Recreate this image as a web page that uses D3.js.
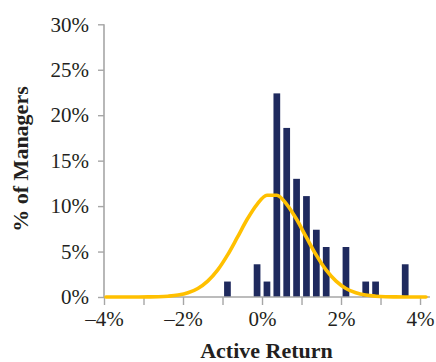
<!DOCTYPE html>
<html>
<head>
<meta charset="utf-8">
<script src="https://cdn.jsdelivr.net/npm/d3@7"></script>
<style>
  html, body { margin: 0; padding: 0; background: #fff; }
  svg { display: block; }
</style>
</head>
<body>
<svg id="chart" width="436" height="362"></svg>
<script>
// Histogram bin centres (% active return) and share of managers (%)
const binCenters = [-0.875, -0.125, 0.125, 0.375, 0.625, 0.875, 1.125, 1.375, 1.625, 2.125, 2.625, 2.875, 3.625];
const binShares  = [1.7, 3.6, 1.7, 22.4, 18.6, 13.0, 11.1, 7.4, 5.5, 5.5, 1.7, 1.7, 3.6];

// Normal-distribution overlay
const curveX = [-3.95, -3.625, -3.375, -3.125, -2.875, -2.625, -2.375, -2.125, -1.875, -1.625, -1.375, -1.125, -0.875, -0.625, -0.375, -0.125, 0.125, 0.375, 0.625, 0.875, 1.125, 1.375, 1.625, 1.875, 2.125, 2.375, 2.625, 2.875, 3.125, 3.375, 3.625, 3.875, 4.15];
const curveY = [0.0, 0.0, 0.0, 0.0, 0.01, 0.03, 0.09, 0.21, 0.46, 0.94, 1.75, 2.95, 4.6, 6.55, 8.55, 10.2, 11.2, 11.2, 10.2, 8.55, 6.55, 4.6, 2.95, 1.75, 0.94, 0.46, 0.21, 0.09, 0.03, 0.01, 0.0, 0.0, 0.0];

const xTicks = [-4, -3, -2, -1, 0, 1, 2, 3, 4];
const xTickLabels = ["\u20134%", "", "\u20132%", "", "0%", "", "2%", "", "4%"];
const yTicks = [0, 5, 10, 15, 20, 25, 30];
const yTickLabels = ["0%", "5%", "10%", "15%", "20%", "25%", "30%"];

const svg = d3.select("#chart");
const font = "'Liberation Serif', 'Times New Roman', serif";
const axisColor = "#a6a6a6";
const textColor = "#231f20";

const x = d3.scaleLinear().domain([-4, 4.25]).range([104, 429.9]);
const y = d3.scaleLinear().domain([0, 30]).range([297, 24.3]);

// Bars
const binStep = 0.25;
const barW = (x(binStep) - x(0)) * 0.68;
svg.append("g").selectAll("rect")
  .data(binCenters.map((c, i) => ({c, v: binShares[i]})))
  .join("rect")
  .attr("x", d => x(d.c) - barW / 2)
  .attr("y", d => y(d.v))
  .attr("width", barW)
  .attr("height", d => y(0) - y(d.v))
  .attr("fill", "#1f2a5e");

// Axes
const xAxis = d3.axisBottom(x)
  .tickValues(xTicks)
  .tickSize(8)
  .tickPadding(6)
  .tickFormat((d, i) => xTickLabels[i]);
const gx = svg.append("g").attr("transform", `translate(0,${y(0)})`).call(xAxis);
gx.select(".domain").attr("d", `M${x(-4)},0H${x(4.25)}`);

const yAxis = d3.axisLeft(y)
  .tickValues(yTicks)
  .tickSize(6)
  .tickPadding(9)
  .tickFormat((d, i) => yTickLabels[i]);
const gy = svg.append("g").attr("transform", `translate(${x(-4)},0)`).call(yAxis);
gy.select(".domain").attr("d", `M0,${y(0)}V${y(30)}`);

[gx, gy].forEach(g => {
  g.select(".domain").attr("stroke", axisColor).attr("stroke-width", 1.6);
  g.selectAll(".tick line").attr("stroke", axisColor).attr("stroke-width", 1.4);
  g.selectAll(".tick text")
    .attr("fill", textColor)
    .style("font-family", font)
    .style("font-size", "21px");
});

// Normal curve
const line = d3.line()
  .x((d, i) => x(curveX[i]))
  .y(d => y(d))
  .curve(d3.curveMonotoneX);
svg.append("path")
  .datum(curveY)
  .attr("d", line)
  .attr("fill", "none")
  .attr("stroke", "#ffc000")
  .attr("stroke-width", 3.6)
  .attr("stroke-linejoin", "round")
  .attr("stroke-linecap", "round");

// Axis titles
svg.append("text")
  .attr("x", 266.5)
  .attr("y", 357.5)
  .attr("text-anchor", "middle")
  .attr("fill", textColor)
  .style("font-family", font)
  .style("font-size", "22px")
  .style("font-weight", "bold")
  .text("Active Return");

svg.append("text")
  .attr("transform", "translate(28,159) rotate(-90)")
  .attr("text-anchor", "middle")
  .attr("fill", textColor)
  .style("font-family", font)
  .style("font-size", "22px")
  .style("font-weight", "bold")
  .text("% of Managers");
</script>
</body>
</html>
